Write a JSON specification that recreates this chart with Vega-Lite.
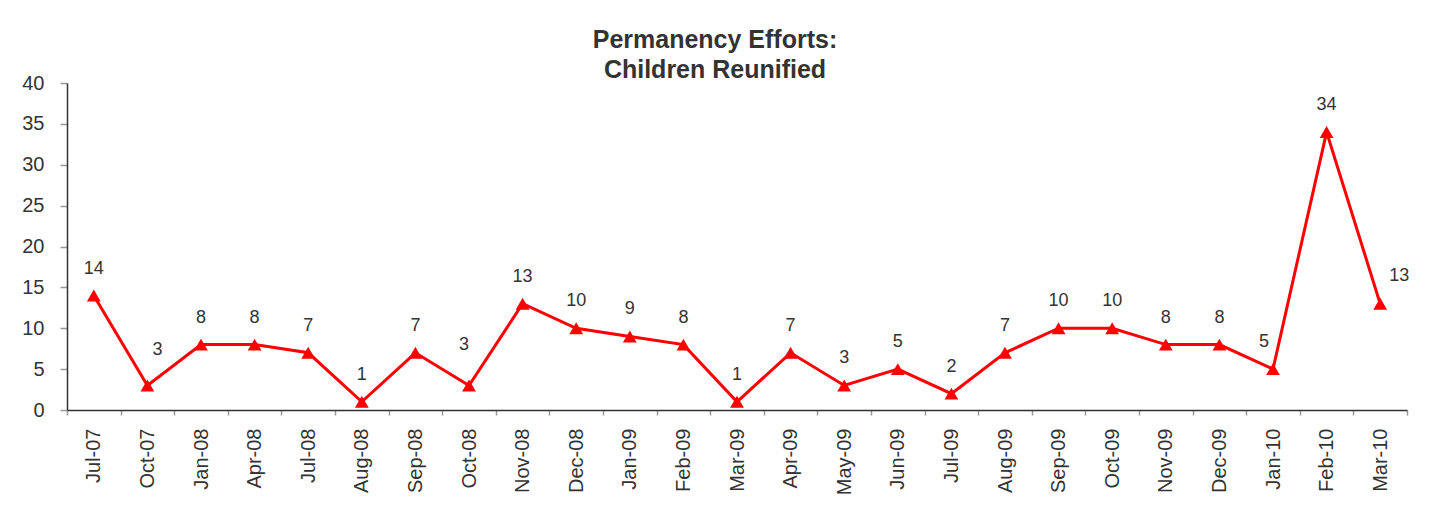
{
  "$schema": "https://vega.github.io/schema/vega-lite/v6.json",
  "autosize": {"type": "none"},
  "padding": {"left": 67, "top": 83, "right": 25, "bottom": 108},
  "width": 1340,
  "height": 327,
  "background": "white",
  "title": {
    "text": ["Permanency Efforts:", "Children Reunified"],
    "anchor": "middle",
    "dx": -22,
    "offset": -10,
    "font": "Liberation Sans",
    "fontSize": 25,
    "fontWeight": "bold",
    "lineHeight": 30,
    "color": "#333333"
  },
  "config": {
    "view": {"stroke": null},
    "font": "Liberation Sans",
    "axis": {
      "labelFont": "Liberation Sans",
      "labelColor": "#333333",
      "labelFontSize": 20,
      "domainColor": "#333333",
      "domainWidth": 1.5,
      "tickColor": "#999999",
      "tickWidth": 1.5,
      "grid": false,
      "title": null
    }
  },
  "data": {
    "values": [
      {"month": "Jul-07", "children": 14},
      {"month": "Oct-07", "children": 3},
      {"month": "Jan-08", "children": 8},
      {"month": "Apr-08", "children": 8},
      {"month": "Jul-08", "children": 7},
      {"month": "Aug-08", "children": 1},
      {"month": "Sep-08", "children": 7},
      {"month": "Oct-08", "children": 3},
      {"month": "Nov-08", "children": 13},
      {"month": "Dec-08", "children": 10},
      {"month": "Jan-09", "children": 9},
      {"month": "Feb-09", "children": 8},
      {"month": "Mar-09", "children": 1},
      {"month": "Apr-09", "children": 7},
      {"month": "May-09", "children": 3},
      {"month": "Jun-09", "children": 5},
      {"month": "Jul-09", "children": 2},
      {"month": "Aug-09", "children": 7},
      {"month": "Sep-09", "children": 10},
      {"month": "Oct-09", "children": 10},
      {"month": "Nov-09", "children": 8},
      {"month": "Dec-09", "children": 8},
      {"month": "Jan-10", "children": 5},
      {"month": "Feb-10", "children": 34},
      {"month": "Mar-10", "children": 13}
    ]
  },
  "encoding": {
    "x": {
      "field": "month",
      "type": "ordinal",
      "sort": null,
      "bandPosition": 0.5,
      "scale": {"type": "band", "paddingInner": 0, "paddingOuter": 0},
      "axis": {
        "labelAngle": -90,
        "tickBand": "extent",
        "tickSize": 5,
        "labelPadding": 13
      }
    },
    "y": {
      "field": "children",
      "type": "quantitative",
      "scale": {"domain": [0, 40], "nice": false},
      "axis": {
        "values": [0, 5, 10, 15, 20, 25, 30, 35, 40],
        "tickSize": 7,
        "labelPadding": 16
      }
    }
  },
  "layer": [
    {
      "mark": {"type": "line", "color": "#FF0000", "strokeWidth": 3}
    },
    {
      "mark": {"type": "point", "shape": "triangle-up", "size": 190, "filled": true, "color": "#FF0000", "opacity": 1}
    },
    {
      "transform": [{"filter": "indexof(['Oct-07','Oct-08','Jan-10','Mar-10'], datum.month) < 0"}],
      "mark": {"type": "text", "fontSize": 18, "color": "#333333", "baseline": "alphabetic", "align": "center", "dy": -22},
      "encoding": {"text": {"field": "children", "type": "quantitative"}}
    },
    {
      "transform": [{"filter": "datum.month === 'Oct-07'"}],
      "mark": {"type": "text", "fontSize": 18, "color": "#333333", "baseline": "alphabetic", "align": "center", "dx": 10, "dy": -30},
      "encoding": {"text": {"field": "children", "type": "quantitative"}}
    },
    {
      "transform": [{"filter": "datum.month === 'Oct-08'"}],
      "mark": {"type": "text", "fontSize": 18, "color": "#333333", "baseline": "alphabetic", "align": "center", "dx": -5, "dy": -35},
      "encoding": {"text": {"field": "children", "type": "quantitative"}}
    },
    {
      "transform": [{"filter": "datum.month === 'Jan-10'"}],
      "mark": {"type": "text", "fontSize": 18, "color": "#333333", "baseline": "alphabetic", "align": "center", "dx": -9, "dy": -22},
      "encoding": {"text": {"field": "children", "type": "quantitative"}}
    },
    {
      "transform": [{"filter": "datum.month === 'Mar-10'"}],
      "mark": {"type": "text", "fontSize": 18, "color": "#333333", "baseline": "alphabetic", "align": "center", "dx": 19, "dy": -23},
      "encoding": {"text": {"field": "children", "type": "quantitative"}}
    }
  ]
}
